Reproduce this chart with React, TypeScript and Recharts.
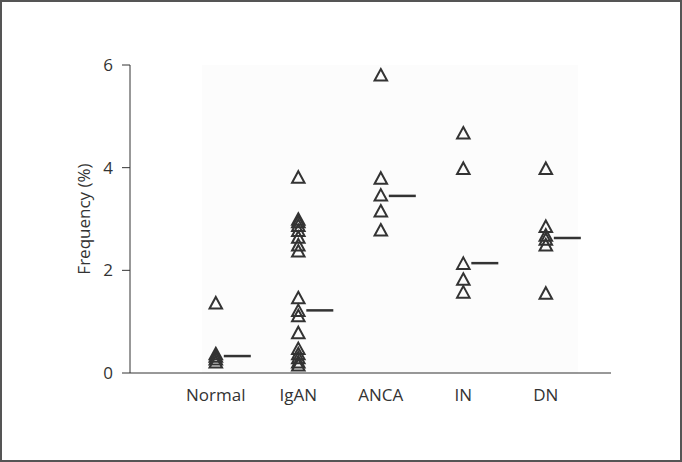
import React from 'react';
import {
  ScatterChart,
  Scatter,
  XAxis,
  YAxis,
  ReferenceArea,
} from 'recharts';

const categories = ['Normal', 'IgAN', 'ANCA', 'IN', 'DN'];

const normalValues = [1.37, 0.38, 0.33, 0.28, 0.22];
const igANValues = [
  3.82, 3.0, 2.95, 2.88, 2.78, 2.65, 2.5, 2.38, 1.47, 1.22, 1.12, 0.79, 0.48, 0.38, 0.3, 0.22, 0.16,
];
const ancaValues = [5.81, 3.8, 3.47, 3.16, 2.79];
const inValues = [4.68, 3.99, 2.14, 1.83, 1.58];
const dnValues = [3.99, 2.86, 2.69, 2.61, 2.5, 1.56];
const medianValues = [0.33, 1.22, 3.45, 2.14, 2.63];

const yTicks = [0, 2, 4, 6];

const groups = [normalValues, igANValues, ancaValues, inValues, dnValues];

const pointData = groups.flatMap((vals, i) => vals.map((v) => ({ x: i + 1, y: v })));
const medianData = medianValues.map((v, i) => ({ x: i + 1, y: v }));

const INK = '#333';
const FONT = '"Open Sans", "Noto Sans", sans-serif';

// open triangle marker
const Triangle = (props: any) => {
  const { cx, cy } = props;
  if (cx == null || cy == null) return null;
  const w = 12.5;
  const h = 11.5;
  const pts = `${cx},${cy - h / 2} ${cx + w / 2},${cy + h / 2} ${cx - w / 2},${cy + h / 2}`;
  return <polygon points={pts} fill="none" stroke={INK} strokeWidth={2} strokeLinejoin="miter" />;
};

// short median dash drawn to the right of the group
const MedianDash = (props: any) => {
  const { cx, cy } = props;
  if (cx == null || cy == null) return null;
  return <line x1={cx + 8} x2={cx + 35} y1={cy} y2={cy} stroke={INK} strokeWidth={2.5} />;
};

const YLabel = (props: any) => {
  const vb = props.viewBox || { x: 0, y: 0, width: 0, height: 0 };
  const x = vb.x + 83;
  const y = vb.y + vb.height / 2;
  return (
    <text
      x={x}
      y={y}
      transform={`rotate(-90, ${x}, ${y})`}
      textAnchor="middle"
      dominantBaseline="central"
      fontSize={17}
      fontFamily={FONT}
      fill={INK}
    >
      Frequency (%)
    </text>
  );
};

export default function App() {
  return (
    <div style={{ position: 'absolute', left: 0, top: 0, width: 682, height: 462, background: '#fff' }}>
      <ScatterChart width={682} height={462} margin={{ top: 65, right: 71, bottom: 0, left: 0 }}>
        <ReferenceArea x1={0.83} x2={5.39} y1={0} y2={6} fill="#fcfcfc" fillOpacity={1} stroke="none" />
        <XAxis
          type="number"
          dataKey="x"
          domain={[-0.04, 5.79]}
          ticks={[1, 2, 3, 4, 5]}
          tickFormatter={(v: number) => categories[v - 1] ?? ''}
          allowDataOverflow
          height={89}
          tickLine={false}
          tickSize={0}
          tickMargin={16}
          axisLine={{ stroke: INK, strokeWidth: 1 }}
          tick={{ fontSize: 17, fill: INK, fontFamily: FONT }}
        />
        <YAxis
          type="number"
          dataKey="y"
          domain={[0, 6]}
          ticks={yTicks}
          width={130}
          tickSize={8}
          tickMargin={9}
          axisLine={{ stroke: INK, strokeWidth: 1 }}
          tickLine={{ stroke: INK, strokeWidth: 1 }}
          tick={{ fontSize: 17, fill: INK, fontFamily: FONT }}
          label={<YLabel />}
        />
        <Scatter data={pointData} shape={<Triangle />} isAnimationActive={false} />
        <Scatter data={medianData} shape={<MedianDash />} isAnimationActive={false} />
      </ScatterChart>
      <div
        style={{
          position: 'absolute',
          left: 0,
          top: 0,
          width: 682,
          height: 462,
          boxSizing: 'border-box',
          border: '2px solid #555',
          pointerEvents: 'none',
        }}
      />
    </div>
  );
}
